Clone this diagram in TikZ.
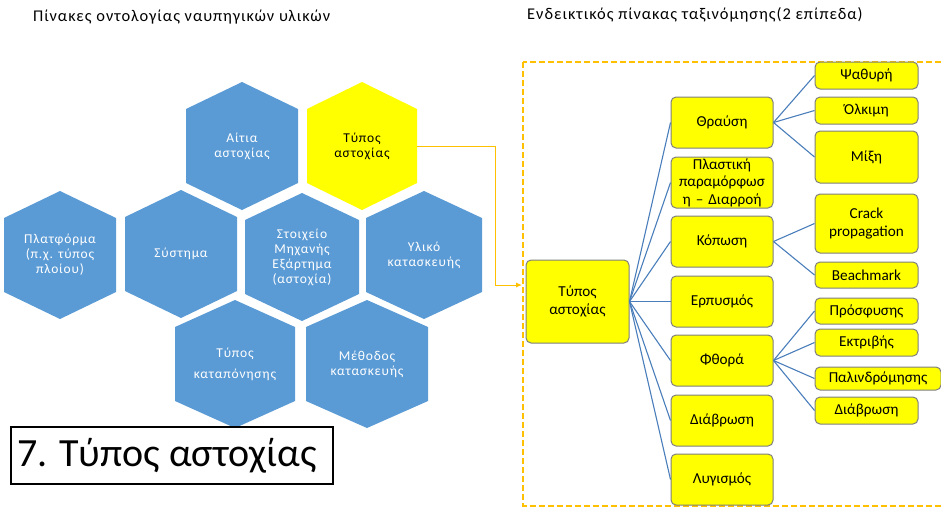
\documentclass[tikz,border=0pt]{standalone}
\usepackage{fontspec}
\setmainfont{Carlito}
\newfontfamily\widefont{Carlito}[LetterSpace=6]
\usetikzlibrary{calc,arrows.meta}

\definecolor{hexblue}{HTML}{5B9BD5}
\definecolor{hexyellow}{HTML}{FFFF00}
\definecolor{linkblue}{HTML}{4A7EBB}
\definecolor{framegold}{HTML}{FFC000}
\definecolor{boxedge}{HTML}{7F7F7F}

\tikzset{
  hextext/.style={align=center, text=white, font=\widefont\fontsize{13.5}{15}\selectfont, inner sep=0pt},
  hexdark/.style={hextext, text=black},
  tbox/.style={draw=boxedge, fill=hexyellow, line width=1pt, rounded corners=5pt,
    align=center, inner sep=1pt, font=\fontsize{15.2}{17.5}\selectfont},
  link/.style={draw=linkblue, line width=1.1pt},
  title/.style={font=\widefont\fontsize{16.4}{18}\selectfont, anchor=west, inner sep=0pt},
}

% pointy-top hexagon: #1 name, #2 x, #3 y, #4 half width, #5 fill, #6 text style, #7 text
\newcommand\hexcell[7]{%
  \fill[#5] (#2,#3) ++(0,-64) -- ++(#4,27) -- ++(0,74) -- ++(-#4,27)
     -- ++(-#4,-27) -- ++(0,-74) -- cycle;
  \node[#6] (#1) at (#2,#3) {#7};
}

\begin{document}
\begin{tikzpicture}[x=1pt, y=-1pt]
\useasboundingbox (0,0) rectangle (941,507);

% titles
\node[title] (ttl) at (33,17) {Πίνακες οντολογίας ναυπηγικών υλικών};
\node[title] (ttr) at (527,15) {Ενδεικτικός πίνακας ταξινόμησης(2 επίπεδα)};

% honeycomb of ontology tables
\hexcell{hcause}{242}{146}{56}{hexblue}{hextext}{Αίτια\\αστοχίας}
\hexcell{hfail}{362}{146}{55}{hexyellow}{hexdark}{Τύπος\\αστοχίας}
\hexcell{hplat}{60}{255}{56}{hexblue}{hextext}{Πλατφόρμα\\(π.χ. τύπος\\πλοίου)}
\hexcell{hsys}{181}{254}{56}{hexblue}{hextext}{Σύστημα}
\hexcell{helem}{302}{257}{57}{hexblue}{hextext}{Στοιχείο\\Μηχανής\\Εξάρτημα\\(αστοχία)}
\hexcell{hmat}{424}{255}{58}{hexblue}{hextext}{Υλικό\\κατασκευής}
\hexcell{hload}{235}{364}{60}{hexblue}{hextext}{Τύπος\\[6pt]καταπόνησης}
\hexcell{hmeth}{367}{364}{61}{hexblue}{hextext}{Μέθοδος\\κατασκευής}

% caption box
\node[draw=black, line width=1.2pt, minimum width=322pt, minimum height=57pt,
  inner sep=0pt, font=\fontsize{40}{42}\selectfont] (cap) at (172,455.5) {\makebox[310pt][l]{7. Τύπος αστοχίας}};

% dashed frame of the classification table
\draw[framegold, line width=2pt, dash pattern=on 6pt off 3pt] (523,62) rectangle (950,505.5);
\coordinate (framein) at (522,285);

% connector from the highlighted hexagon to the table
\coordinate (hfailr) at ($(hfail.center)+(55,0)$);
\draw[framegold, line width=1pt, -{Latex[length=6pt,width=5pt]}]
  (hfailr) -- (495,146) |- (framein);

% root
\node[tbox, minimum width=103pt, minimum height=83pt] (root) at (577.5,301.5) {Τύπος\\αστοχίας};

% first level
\tikzset{lv1/.style={tbox, minimum width=102pt, minimum height=51pt, text width=98pt}}
\node[lv1] (fr) at (722,122.5) {Θραύση};
\node[lv1] (pl) at (722,182.5) {Πλαστική\\παραμόρφωσ\\η – Διαρροή};
\node[lv1] (fa) at (722,241.5) {Κόπωση};
\node[lv1] (cr) at (722,301.5) {Ερπυσμός};
\node[lv1] (we) at (722,360.5) {Φθορά};
\node[lv1] (co) at (722,420.5) {Διάβρωση};
\node[lv1] (bu) at (722,479.5) {Λυγισμός};

% second level
\tikzset{lv2/.style={tbox, minimum width=103pt}}
\node[lv2, minimum height=27pt] (fr1) at (866.5,75.5) {Ψαθυρή};
\node[lv2, minimum height=27pt] (fr2) at (866.5,110.5) {Όλκιμη};
\node[lv2, minimum height=52pt] (fr3) at (866.5,157) {Μίξη};
\node[lv2, minimum height=59pt] (fa1) at (866.5,223.5) {Crack\\propagation};
\node[lv2, minimum height=26pt] (fa2) at (866.5,275) {Beachmark};
\node[lv2, minimum height=26pt] (we1) at (866.5,311) {Πρόσφυσης};
\node[lv2, minimum height=27pt] (we2) at (866.5,342.5) {Εκτριβής};
\node[lv2, minimum height=23pt, minimum width=126pt] (we3) at (878,378.5) {Παλινδρόμησης};
\node[lv2, minimum height=27pt] (we4) at (866.5,410.5) {Διάβρωση};

% links
\foreach \n in {fr,pl,fa,cr,we,co,bu} \draw[link] (root.east) -- (\n.west);
\foreach \n in {fr1,fr2,fr3} \draw[link] (fr.east) -- (\n.west);
\foreach \n in {fa1,fa2} \draw[link] (fa.east) -- (\n.west);
\foreach \n in {we1,we2,we3,we4} \draw[link] (we.east) -- (\n.west);
\end{tikzpicture}
\end{document}
